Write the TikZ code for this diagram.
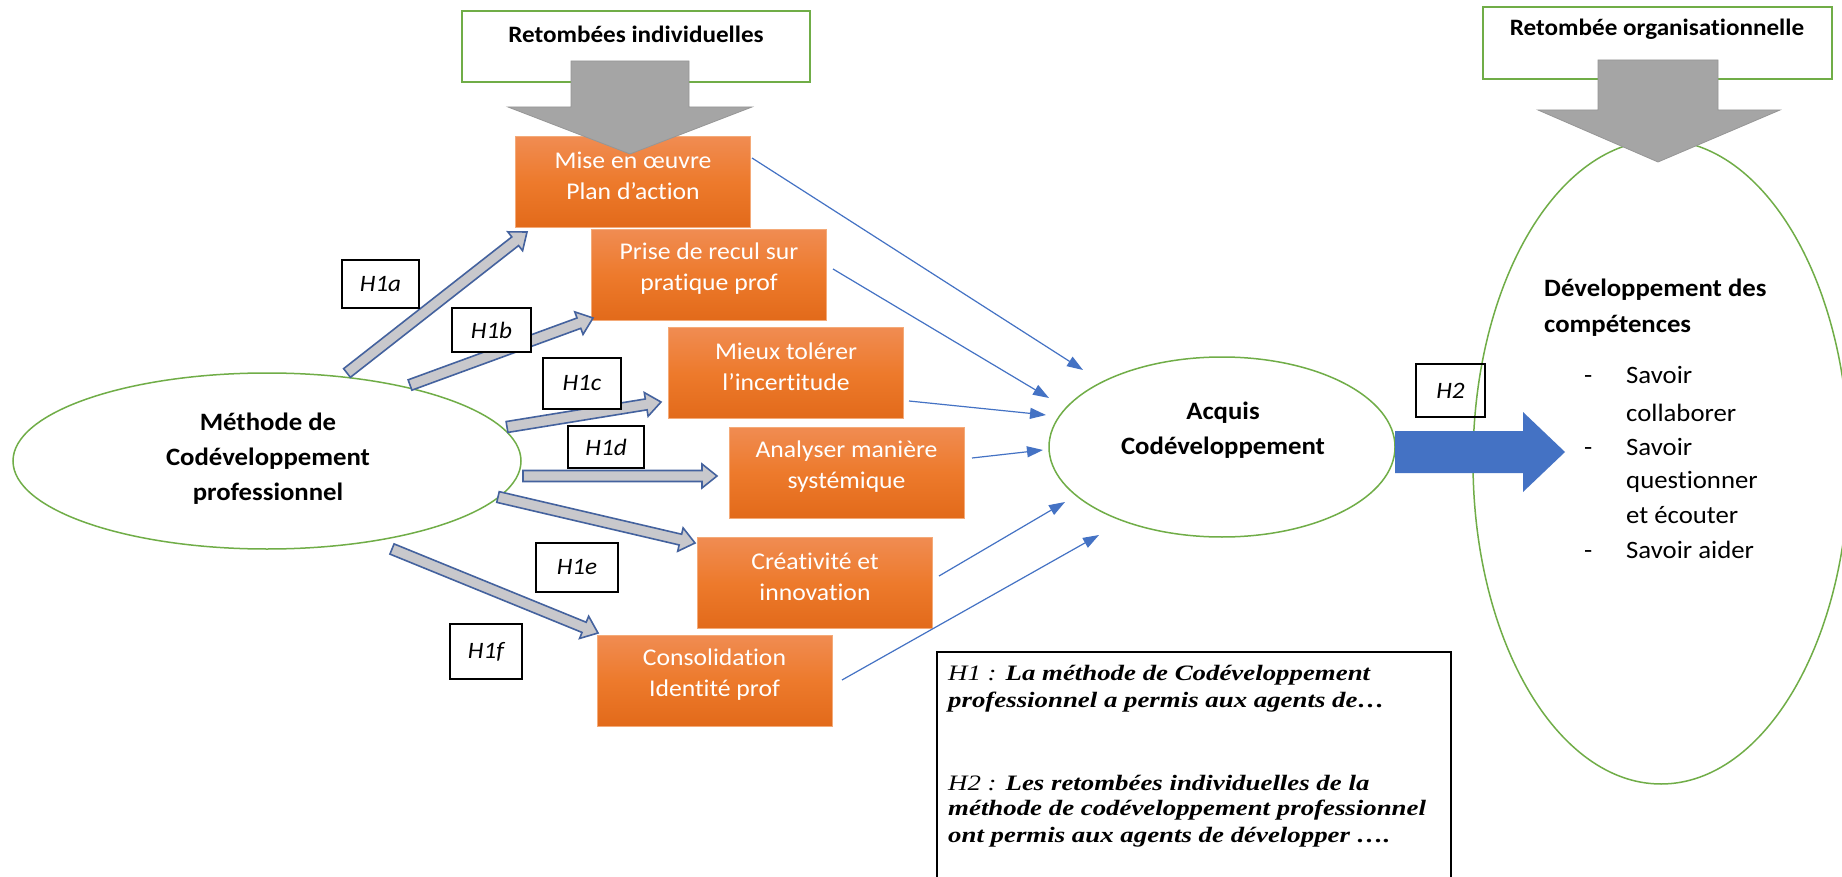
\documentclass[tikz,border=0pt]{standalone}
\usepackage{fontspec}
\setmainfont{Carlito}[FakeStretch=1.07, Ligatures=NoCommon, Contextuals=NoAlternate]
\newfontfamily\tnr[FakeStretch=1.22]{Liberation Serif}
\usetikzlibrary{shapes.geometric,calc,arrows.meta}
\definecolor{grn}{RGB}{112,173,71}
\definecolor{oTop}{RGB}{240,140,82}
\definecolor{oMid}{RGB}{237,122,44}
\definecolor{oBot}{RGB}{226,106,26}
\definecolor{oEdge}{RGB}{244,170,120}
\definecolor{acc}{RGB}{68,114,196}
\definecolor{hEdge}{RGB}{68,98,158}
\definecolor{hFill}{RGB}{200,200,204}
\definecolor{gArr}{RGB}{165,165,165}
\definecolor{gEdge}{RGB}{150,150,150}
\tikzset{
  gbox/.style={rectangle, draw=grn, line width=1.5pt, fill=white, inner sep=0pt},
  gell/.style={ellipse, draw=grn, line width=1.5pt, fill=white, inner sep=0pt},
  obox/.style={rectangle, minimum width=235pt, minimum height=91pt, inner sep=0pt,
    top color=oTop, bottom color=oBot, middle color=oMid, draw=oEdge, line width=0.8pt},
  otxt/.style={inner sep=0pt, text=white, align=center, font=\fontsize{24}{31}\selectfont},
  hbox/.style={rectangle, draw=black, line width=1.3pt, fill=white, inner sep=0pt,
    font=\fontsize{23.5}{26}\selectfont\itshape},
  ttl/.style={inner sep=0pt, anchor=base, font=\fontsize{23.5}{26}\selectfont\bfseries},
  eltxt/.style={inner sep=0pt, align=center, font=\fontsize{25}{35}\selectfont\bfseries},
  devtxt/.style={inner sep=0pt, anchor=base west, font=\fontsize{25}{35}\selectfont},
  notetxt/.style={inner sep=0pt, anchor=base west, font=\fontsize{22}{27}\selectfont\tnr\bfseries\itshape},
  conn/.style={draw=acc, line width=1.2pt, -{Triangle[length=16pt,width=11pt]}},
  harrow/.style={fill=hFill, draw=hEdge, line width=1.6pt, line join=miter},
  grayarrow/.style={fill=gArr, draw=gEdge, line width=0.8pt},
  bigarrow/.style={fill=acc, draw=none},
}
\newcommand\hyparrow[2]{%
  \coordinate (hc) at ($(#2)!15pt!(#1)$);
  \path[harrow] ($(#1)!5.5pt!90:(#2)$) -- ($(hc)!5.5pt!90:(#2)$) -- ($(hc)!12pt!90:(#2)$)
    -- (#2) -- ($(hc)!12pt!-90:(#2)$) -- ($(hc)!5.5pt!-90:(#2)$) -- ($(#1)!5.5pt!-90:(#2)$) -- cycle;
}
\begin{document}
\begin{tikzpicture}[x=1pt,y=-1pt]
\useasboundingbox (0,0) rectangle (1842,877);
\fill[white] (0,0) rectangle (1842,877);

% top title boxes
\node[gbox, minimum width=348pt, minimum height=71pt] (ri) at (636,46.5) {};
\node[ttl] (rit) at (636,43) {Retombées individuelles};
\node[gbox, minimum width=349pt, minimum height=72pt] (ro) at (1657.5,43) {};
\node[ttl] (rot) at (1657,36) {Retombée organisationnelle};

% ellipses
\node[gell, minimum width=508pt, minimum height=176pt] (meth) at (267,461) {};
\node[eltxt] (metht) at (268,459) {Méthode de\\Codéveloppement\\professionnel};
\node[gell, minimum width=346pt, minimum height=180pt] (acq) at (1222,447) {};
\node[eltxt] (acqt) at (1223,430) {Acquis\\Codéveloppement};
\node[gell, minimum width=376pt, minimum height=644pt] (dev) at (1661,462) {};

% gray block arrow (right)
\path[grayarrow] (1598,60) -- (1718,60) -- (1718,110) -- (1780,110) -- (1658,162) -- (1538,110) -- (1598,110) -- cycle;

% orange boxes
\node[obox] (b1) at (633,182) {};
\node[obox] (b2) at (709,275) {};
\node[obox] (b3) at (786,373) {};
\node[obox] (b4) at (846.5,472.5) {};
\node[obox] (b5) at (815,583) {};
\node[obox] (b6) at (714.5,680.5) {};
\node[otxt] (t1) at ([yshift=6pt]b1.center) {Mise en œuvre\\Plan d’action};
\node[otxt] (t2) at ([yshift=6pt]b2.center) {Prise de recul sur\\pratique prof};
\node[otxt] (t3) at ([yshift=6pt]b3.center) {Mieux tolérer\\l’incertitude};
\node[otxt] (t4) at ([yshift=6pt]b4.center) {Analyser manière\\systémique};
\node[otxt] (t5) at ([yshift=6pt]b5.center) {Créativité et\\innovation};
\node[otxt] (t6) at ([yshift=6pt]b6.center) {Consolidation\\Identité prof};

% gray block arrow (left), over box 1
\path[grayarrow] (571,61) -- (689,61) -- (689,107) -- (752,107) -- (630,154) -- (508,107) -- (571,107) -- cycle;

% hypothesis arrows
\coordinate (h1as) at (347,373); \coordinate (h1ae) at (527,232);
\coordinate (h1bs) at (410,385); \coordinate (h1be) at (593,318);
\coordinate (h1cs) at (507,427); \coordinate (h1ce) at (661,402);
\coordinate (h1ds) at (523,476); \coordinate (h1de) at (717,476);
\coordinate (h1es) at (498,497); \coordinate (h1ee) at (695,543);
\coordinate (h1fs) at (392,549); \coordinate (h1fe) at (598,633);
\hyparrow{h1as}{h1ae}
\hyparrow{h1bs}{h1be}
\hyparrow{h1cs}{h1ce}
\hyparrow{h1ds}{h1de}
\hyparrow{h1es}{h1ee}
\hyparrow{h1fs}{h1fe}

% hypothesis labels
\node[hbox, minimum width=77pt, minimum height=48pt] (l1a) at (380.5,284) {H1a};
\node[hbox, minimum width=79pt, minimum height=44pt] (l1b) at (491.5,330) {H1b};
\node[hbox, minimum width=78pt, minimum height=51pt] (l1c) at (582,383.5) {H1c};
\node[hbox, minimum width=76pt, minimum height=42pt] (l1d) at (606,447) {H1d};
\node[hbox, minimum width=82pt, minimum height=49pt] (l1e) at (577,567.5) {H1e};
\node[hbox, minimum width=72pt, minimum height=55pt] (l1f) at (486,651.5) {H1f};

% thin connectors to Acquis
\coordinate (c1s) at (752,158); \coordinate (c1e) at (1083,370);
\coordinate (c2s) at (833,269); \coordinate (c2e) at (1049,398);
\coordinate (c3s) at (909,401); \coordinate (c3e) at (1046,415);
\coordinate (c4s) at (972,458); \coordinate (c4e) at (1043,450);
\coordinate (c5s) at (939,576); \coordinate (c5e) at (1065,502);
\coordinate (c6s) at (842,680); \coordinate (c6e) at (1099,535);
\draw[conn] (c1s) -- (c1e);
\draw[conn] (c2s) -- (c2e);
\draw[conn] (c3s) -- (c3e);
\draw[conn] (c4s) -- (c4e);
\draw[conn] (c5s) -- (c5e);
\draw[conn] (c6s) -- (c6e);

% big blue arrow H2
\path[bigarrow] (1395,431) -- (1523,431) -- (1523,412) -- (1565,452) -- (1523,492) -- (1523,473) -- (1395,473) -- cycle;
\node[rectangle, draw=black, line width=1.3pt, inner sep=0pt, minimum width=69pt, minimum height=53pt,
  font=\fontsize{23.5}{26}\selectfont\itshape] (l2) at (1450.5,390.5) {H2};

% competences text
\node[devtxt, font=\fontsize{25}{35}\selectfont\bfseries] (d1) at (1544,297) {Développement des};
\node[devtxt, font=\fontsize{25}{35}\selectfont\bfseries] (d2) at (1544,332) {compétences};
\node[devtxt] (k1) at (1584,383) {-};
\node[devtxt] (s1) at (1626,383) {Savoir};
\node[devtxt] (s2) at (1626,421) {collaborer};
\node[devtxt] (k2) at (1584,455) {-};
\node[devtxt] (s3) at (1626,455) {Savoir};
\node[devtxt] (s4) at (1626,488) {questionner};
\node[devtxt] (s5) at (1626,523) {et écouter};
\node[devtxt] (k3) at (1584,558) {-};
\node[devtxt] (s6) at (1626,558) {Savoir aider};

% note box
\draw[black, line width=1.3pt] (937,900) -- (937,652) coordinate (nb) -- (1451,652) -- (1451,900);
\node[notetxt] (n1) at (948,680) {\textmd{H1 :} La méthode de Codéveloppement};
\node[notetxt] (n2) at (948,707) {professionnel a permis aux agents de…};
\node[notetxt] (n3) at (948,790) {\textmd{H2 :} Les retombées individuelles de la};
\node[notetxt] (n4) at (948,815) {méthode de codéveloppement professionnel};
\node[notetxt] (n5) at (948,842) {ont permis aux agents de développer ….};
\end{tikzpicture}
\end{document}
